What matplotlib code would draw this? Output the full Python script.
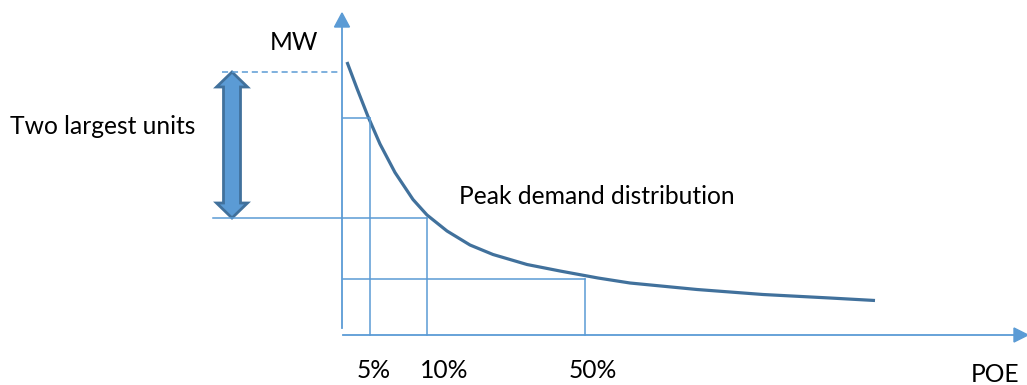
import numpy as np
import matplotlib.pyplot as plt
from matplotlib.patches import Polygon

# schematic units: x = POE position, y = MW (origin at the axes crossing)
curve_poe = [4, 14, 25, 37, 52, 70, 84, 104, 127, 150, 184, 217, 255, 287, 354, 420, 487, 532]
curve_mw = [272, 245.5, 217.5, 190, 161.5, 134.5, 119, 103, 89, 79.5, 69.5, 63, 56, 51, 44.5, 39.5, 36, 33.5]

poe_marks = [27, 84, 242]            # 5%, 10%, 50% positions
poe_labels = ['5%', '10%', '50%']
mark_mw = [216, 116, 55]             # demand at each POE
units_top = 262                      # 10% POE demand + two largest units

light = '#5B9BD5'
dark = '#41719C'

fig = plt.figure(figsize=(10.27, 3.85), dpi=100)
ax = fig.add_axes([0, 0, 1, 1])
ax.set_xlim(-343, 684)
ax.set_ylim(-51, 334)
ax.axis('off')

# axes with arrow heads
ax.plot([-1, -1], [6, 308], color=light, lw=1.3)
ax.add_patch(Polygon([[-8.5, 307], [6.5, 307], [-1, 321]], closed=True, color=light))
ax.plot([0, 672], [-1, -1], color=light, lw=1.3)
ax.add_patch(Polygon([[671, -8], [671, 6], [685, -1]], closed=True, color=light))

# demand curve
ax.plot(curve_poe, curve_mw, color=dark, lw=2.3, solid_capstyle='butt', solid_joinstyle='round')

# POE guide lines
for p, m in zip(poe_marks, mark_mw):
    ax.plot([p, p], [m, -1], color=light, lw=1.1)
    if p != poe_marks[1]:
        ax.plot([0, p], [m, m], color=light, lw=1.1)
ax.plot([-130, poe_marks[1]], [mark_mw[1], mark_mw[1]], color=light, lw=1.1)
ax.plot([-121, -3], [units_top, units_top], color=light, lw=1.1, dashes=(4, 2.5))

# double arrow for the two largest units
xc, hw, sw, hl = -111, 15.5, 8.5, 15
b, t = mark_mw[1], units_top
arrow = [[xc, t], [xc + hw, t - hl], [xc + sw, t - hl], [xc + sw, b + hl], [xc + hw, b + hl],
         [xc, b], [xc - hw, b + hl], [xc - sw, b + hl], [xc - sw, t - hl], [xc - hw, t - hl]]
ax.add_patch(Polygon(arrow, closed=True, facecolor=light, edgecolor=dark, lw=2, joinstyle='miter'))

fs = 17.7
font = 'Lato'
ax.text(-49, 292, 'MW', fontsize=fs, family=font, ha='center', va='center')
ax.text(-240, 208, 'Two largest units', fontsize=fs, family=font, ha='center', va='center')
ax.text(116, 137, 'Peak demand distribution', fontsize=fs, family=font, ha='left', va='center')
for x, lab in zip([31, 101, 250], poe_labels):
    ax.text(x, -36, lab, fontsize=fs, family=font, ha='center', va='center')
ax.text(652, -41, 'POE', fontsize=fs, family=font, ha='center', va='center')

fig.savefig('out.png', dpi=100)
